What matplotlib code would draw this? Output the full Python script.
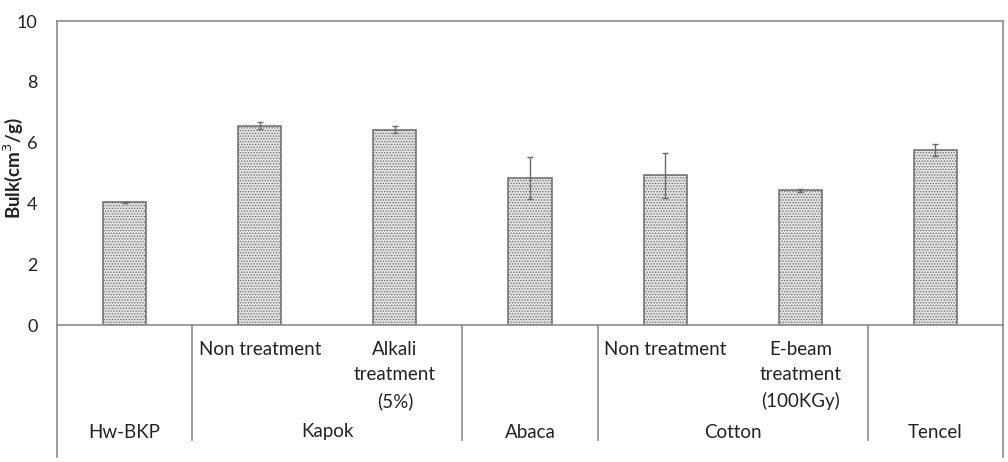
import matplotlib
matplotlib.use("Agg")
import matplotlib.pyplot as plt
import matplotlib.transforms as mtransforms

# data
sub_labels = ["", "Non treatment", "Alkali\ntreatment\n(5%)", "",
              "Non treatment", "E-beam\ntreatment\n(100KGy)", ""]
groups = ["Hw-BKP", "Kapok", "Abaca", "Cotton", "Tencel"]
group_sizes = [1, 2, 1, 2, 1]
bulk = [4.03, 6.56, 6.43, 4.82, 4.92, 4.43, 5.77]
bulk_err = [0.02, 0.12, 0.10, 0.69, 0.75, 0.06, 0.20]
y_ticks = [0, 2, 4, 6, 8, 10]

W, H = 1008, 462
plt.rcParams['font.family'] = ['Lato', 'DejaVu Sans']
plt.rcParams['hatch.linewidth'] = 0.6

fig = plt.figure(figsize=(W / 100, H / 100), dpi=100)
L, R, T, B = 57, 1003, 21, 325
ax = fig.add_axes([L / W, (H - B) / H, (R - L) / W, (B - T) / H])
ax_h = B - T
FS = 13.5

x = list(range(len(bulk)))
ax.bar(x, bulk, width=0.32, facecolor="#e2e2e2", edgecolor="#6a6a6a",
       hatch="......", linewidth=1.1, zorder=2)
ax.errorbar(x, bulk, yerr=bulk_err, fmt="none", ecolor="#6a6a6a",
            elinewidth=1.0, capsize=2.5, capthick=1.0, zorder=3)

ax.set_xlim(-0.5, len(bulk) - 0.5)
ax.set_ylim(0, 10)
ax.set_yticks(y_ticks)
ax.tick_params(axis="y", length=0, pad=14, labelsize=13, labelcolor="#222222")
ax.set_xticks([])

for s in ["top", "left", "right", "bottom"]:
    ax.spines[s].set_color("#8c8c8c")
    ax.spines[s].set_linewidth(1.2)
ax.spines["left"].set_visible(False)
ax.spines["right"].set_visible(False)

trans = mtransforms.blended_transform_factory(ax.transData, ax.transAxes)
# outer vertical lines extending below the plot
y_outer = -(457 - B) / ax_h
for xe in [-0.5, len(bulk) - 0.5]:
    ax.plot([xe, xe], [1, y_outer], transform=trans, color="#8c8c8c",
            lw=1.2, clip_on=False)

# group separators
y_sep = -(440 - B) / ax_h
pos = -0.5
for n in group_sizes[:-1]:
    pos += n
    ax.plot([pos, pos], [0, y_sep], transform=trans, color="#8c8c8c",
            lw=1.2, clip_on=False)

# sub labels
for xi, lab in zip(x, sub_labels):
    if lab:
        ax.text(xi, -(341 - B) / ax_h, lab, transform=trans, ha="center",
                va="top", fontsize=FS, color="#222222", linespacing=1.6)

# group labels
start = 0
for g, n in zip(groups, group_sizes):
    xc = start + (n - 1) / 2
    ax.text(xc, -(432 - B) / ax_h, g, transform=trans, ha="center",
            va="center", fontsize=FS, color="#222222")
    start += n

fig.text(13 / W, (H - 168) / H, "Bulk(cm$^3$/g)", rotation=90, ha="center",
         va="center", fontsize=13.5, fontweight="bold", color="#222222")

fig.savefig("out.png", dpi=100)
